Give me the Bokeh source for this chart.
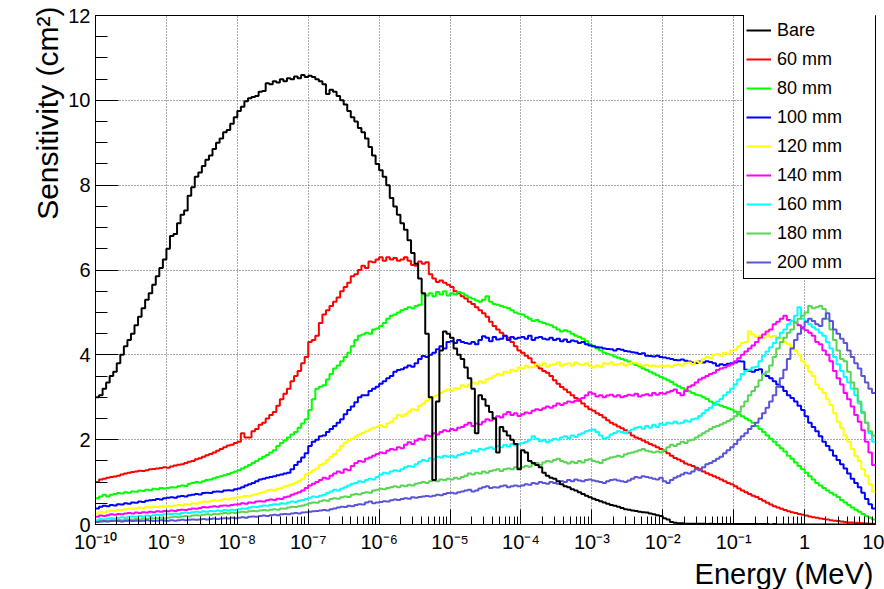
import numpy as np
from bokeh.plotting import figure
from bokeh.models import (FixedTicker, Legend, LegendItem, Range1d, Title,
                          LinearAxis, CustomJSTickFormatter)
from bokeh.embed import file_html
from bokeh.resources import INLINE

# Histogram layout: 20 logarithmic bins per decade, 1e-10 MeV .. 10 MeV
log_emin, log_emax, bins_per_decade = -10, 1, 20

# Sensitivity (cm^2) per bin, one row per decade (20 bins each)
bare = [
    3.0, 3.05, 3.2, 3.35, 3.5, 3.6, 3.8, 4.0, 4.2, 4.35, 4.5, 4.7, 4.9, 5.1, 5.3, 5.45, 5.65, 5.85, 6.05, 6.25,
    6.5, 6.8, 6.85, 7.1, 7.3, 7.4, 7.75, 7.95, 8.2, 8.3, 8.45, 8.6, 8.7, 8.85, 9.0, 9.1, 9.25, 9.3, 9.45, 9.6,
    9.75, 9.85, 9.98, 10.05, 10.08, 10.1, 10.2, 10.22, 10.4, 10.38, 10.45, 10.42, 10.5, 10.45, 10.52, 10.5, 10.56, 10.52, 10.6, 10.55,
    10.58, 10.55, 10.5, 10.45, 10.38, 10.15, 10.25, 10.2, 10.1, 10.0, 9.9, 9.75, 9.6, 9.5, 9.35, 9.25, 9.1, 8.9, 8.7, 8.5,
    8.35, 8.2, 8.0, 7.7, 7.5, 7.3, 7.1, 6.95, 6.7, 6.4, 6.15, 5.8, 5.45, 4.5, 3.0, 1.05, 2.9, 4.1, 4.55, 4.5,
    4.4, 4.15, 4.0, 3.9, 3.7, 3.45, 3.2, 2.15, 3.05, 2.95, 2.8, 2.65, 2.5, 1.7, 2.3, 2.2, 2.1, 2.0, 1.9, 1.3,
    1.75, 1.7, 1.5, 1.45, 1.4, 1.35, 1.22, 1.15, 1.1, 1.08, 1.02, 0.95, 0.9, 0.88, 0.83, 0.8, 0.76, 0.72, 0.68, 0.64,
    0.61, 0.58, 0.55, 0.52, 0.49, 0.46, 0.44, 0.42, 0.39, 0.36, 0.35, 0.33, 0.32, 0.3, 0.29, 0.28, 0.26, 0.24, 0.22, 0.2,
    0.15, 0.12, 0.06, 0.04, 0.03, 0.03, 0.02, 0.02, 0.02, 0.02, 0.02, 0.02, 0.01, 0.02, 0.01, 0.01, 0.01, 0.01, 0.01, 0.01,
    0.01, 0.01, 0.01, 0.01, 0.01, 0.01, 0.01, 0.01, 0.01, 0.01, 0.0, 0.01, 0.0, 0.0, 0.0, 0.0, 0.0, 0.0, 0.0, 0.0,
    0.0, 0.0, 0.0, 0.0, 0.0, 0.0, 0.0, 0.0, 0.0, 0.0, 0.0, 0.0, 0.0, 0.0, 0.0, 0.0, 0.0, 0.0, 0.0, 0.0,
]
mm60 = [
    1.0, 1.06, 1.08, 1.1, 1.12, 1.13, 1.15, 1.18, 1.2, 1.22, 1.24, 1.25, 1.27, 1.26, 1.28, 1.3, 1.31, 1.32, 1.33, 1.35,
    1.34, 1.37, 1.39, 1.41, 1.42, 1.45, 1.48, 1.5, 1.54, 1.56, 1.6, 1.63, 1.66, 1.7, 1.74, 1.78, 1.82, 1.86, 1.88, 1.92,
    1.95, 2.15, 2.05, 2.05, 2.2, 2.25, 2.35, 2.4, 2.5, 2.58, 2.65, 2.8, 2.95, 3.08, 3.2, 3.38, 3.5, 3.62, 3.8, 3.95,
    4.3, 4.35, 4.45, 4.75, 4.95, 5.05, 5.15, 5.25, 5.35, 5.5, 5.6, 5.7, 5.85, 5.9, 6.0, 6.1, 6.05, 6.2, 6.18, 6.25,
    6.3, 6.22, 6.3, 6.25, 6.28, 6.22, 6.25, 6.3, 6.22, 6.12, 6.1, 6.2, 6.15, 6.18, 5.9, 5.8, 5.72, 5.75, 5.7, 5.65,
    5.6, 5.5, 5.45, 5.38, 5.33, 5.25, 5.2, 5.12, 5.05, 4.98, 4.9, 4.78, 4.68, 4.6, 4.52, 4.45, 4.4, 4.3, 4.2, 4.1,
    4.05, 3.98, 3.92, 3.82, 3.75, 3.68, 3.62, 3.58, 3.5, 3.4, 3.32, 3.24, 3.18, 3.12, 3.05, 2.98, 2.92, 2.85, 2.78, 2.72,
    2.68, 2.62, 2.58, 2.52, 2.46, 2.4, 2.36, 2.31, 2.27, 2.22, 2.17, 2.1, 2.05, 2.02, 1.98, 1.94, 1.9, 1.86, 1.82, 1.78,
    1.74, 1.68, 1.62, 1.57, 1.53, 1.49, 1.44, 1.41, 1.38, 1.34, 1.3, 1.25, 1.21, 1.17, 1.14, 1.1, 1.06, 1.02, 0.98, 0.95,
    0.9, 0.85, 0.8, 0.76, 0.72, 0.68, 0.65, 0.6, 0.56, 0.51, 0.47, 0.43, 0.4, 0.37, 0.34, 0.31, 0.29, 0.27, 0.25, 0.23,
    0.21, 0.19, 0.17, 0.16, 0.14, 0.13, 0.12, 0.1, 0.09, 0.08, 0.07, 0.06, 0.05, 0.045, 0.04, 0.035, 0.03, 0.025, 0.02, 0.02,
]
mm80 = [
    0.62, 0.66, 0.7, 0.66, 0.7, 0.72, 0.74, 0.73, 0.76, 0.75, 0.78, 0.77, 0.8, 0.79, 0.82, 0.81, 0.84, 0.83, 0.86, 0.85,
    0.86, 0.88, 0.87, 0.9, 0.92, 0.91, 0.96, 0.98, 1.0, 0.99, 1.02, 1.05, 1.06, 1.09, 1.12, 1.14, 1.16, 1.19, 1.22, 1.25,
    1.28, 1.32, 1.36, 1.4, 1.45, 1.5, 1.55, 1.6, 1.64, 1.7, 1.75, 1.85, 1.92, 1.98, 2.05, 2.12, 2.18, 2.28, 2.38, 2.48,
    2.7, 2.95, 3.2, 3.25, 3.28, 3.42, 3.55, 3.68, 3.75, 3.85, 3.95, 4.05, 4.2, 4.35, 4.45, 4.48, 4.52, 4.5, 4.6, 4.62,
    4.68, 4.75, 4.85, 4.92, 4.95, 5.0, 5.05, 5.08, 5.12, 5.1, 5.15, 5.18, 5.42, 5.4, 5.45, 5.38, 5.48, 5.42, 5.5, 5.4,
    5.45, 5.42, 5.48, 5.45, 5.4, 5.35, 5.32, 5.28, 5.25, 5.3, 5.38, 5.25, 5.2, 5.18, 5.15, 5.12, 5.1, 5.05, 5.0, 4.97,
    4.95, 4.9, 4.85, 4.8, 4.82, 4.78, 4.75, 4.72, 4.7, 4.65, 4.6, 4.55, 4.58, 4.55, 4.5, 4.45, 4.42, 4.38, 4.32, 4.25,
    4.2, 4.15, 4.1, 4.05, 4.02, 4.0, 3.96, 3.93, 3.9, 3.87, 3.84, 3.8, 3.76, 3.73, 3.68, 3.64, 3.6, 3.56, 3.52, 3.48,
    3.44, 3.4, 3.36, 3.3, 3.26, 3.22, 3.18, 3.14, 3.1, 3.06, 3.04, 3.0, 2.96, 2.9, 2.86, 2.83, 2.8, 2.77, 2.74, 2.71,
    2.66, 2.6, 2.55, 2.5, 2.45, 2.4, 2.32, 2.25, 2.18, 2.1, 2.02, 1.95, 1.87, 1.8, 1.72, 1.62, 1.55, 1.46, 1.38, 1.3,
    1.22, 1.14, 1.06, 0.98, 0.92, 0.86, 0.8, 0.75, 0.7, 0.65, 0.58, 0.52, 0.46, 0.4, 0.35, 0.3, 0.25, 0.2, 0.16, 0.12,
]
mm100 = [
    0.38, 0.42, 0.44, 0.43, 0.46, 0.45, 0.48, 0.47, 0.5, 0.49, 0.52, 0.51, 0.54, 0.53, 0.56, 0.57, 0.58, 0.6, 0.59, 0.62,
    0.63, 0.64, 0.63, 0.66, 0.67, 0.66, 0.69, 0.7, 0.72, 0.71, 0.74, 0.75, 0.74, 0.77, 0.78, 0.77, 0.8, 0.81, 0.8, 0.83,
    0.85, 0.88, 0.92, 0.95, 0.98, 1.02, 1.06, 1.08, 1.1, 1.12, 1.14, 1.16, 1.18, 1.2, 1.22, 1.3, 1.4, 1.48, 1.58, 1.68,
    1.85, 1.95, 2.0, 2.08, 2.1, 2.18, 2.25, 2.32, 2.4, 2.48, 2.6, 2.7, 2.78, 2.88, 3.0, 3.05, 3.05, 3.15, 3.2, 3.25,
    3.32, 3.38, 3.45, 3.5, 3.6, 3.64, 3.66, 3.7, 3.75, 3.72, 3.8, 3.9, 3.97, 3.95, 4.0, 4.05, 4.13, 4.2, 4.15, 4.3,
    4.32, 4.28, 4.35, 4.3, 4.28, 4.26, 4.3, 4.25, 4.35, 4.44, 4.4, 4.32, 4.42, 4.36, 4.38, 4.45, 4.35, 4.42, 4.38, 4.4,
    4.42, 4.38, 4.45, 4.35, 4.4, 4.42, 4.38, 4.36, 4.4, 4.35, 4.38, 4.32, 4.36, 4.3, 4.34, 4.32, 4.28, 4.3, 4.25, 4.22,
    4.2, 4.18, 4.17, 4.15, 4.14, 4.13, 4.1, 4.14, 4.12, 4.09, 4.08, 4.06, 4.05, 4.02, 4.04, 3.98, 3.97, 3.96, 3.98, 3.95,
    3.94, 3.92, 3.9, 3.88, 3.87, 3.89, 3.86, 3.84, 3.82, 3.81, 3.84, 3.82, 3.85, 3.83, 3.8, 3.74, 3.78, 3.76, 3.79, 3.8,
    3.82, 3.85, 3.84, 3.65, 3.62, 3.6, 3.64, 3.66, 3.55, 3.5, 3.45, 3.38, 3.3, 3.25, 3.15, 3.05, 2.98, 2.9, 2.8, 2.7,
    2.55, 2.4, 2.3, 2.2, 2.08, 1.95, 1.85, 1.75, 1.62, 1.52, 1.42, 1.32, 1.2, 1.08, 0.98, 0.88, 0.75, 0.6, 0.48, 0.38,
]
mm120 = [
    0.26, 0.3, 0.28, 0.31, 0.33, 0.32, 0.35, 0.34, 0.36, 0.38, 0.37, 0.38, 0.4, 0.39, 0.41, 0.4, 0.42, 0.41, 0.43, 0.42,
    0.44, 0.43, 0.45, 0.46, 0.45, 0.48, 0.47, 0.5, 0.49, 0.52, 0.54, 0.53, 0.55, 0.57, 0.56, 0.58, 0.6, 0.59, 0.62, 0.63,
    0.64, 0.66, 0.68, 0.67, 0.7, 0.72, 0.74, 0.76, 0.8, 0.82, 0.8, 0.84, 0.86, 0.9, 0.92, 0.95, 0.98, 1.02, 1.08, 1.18,
    1.22, 1.28, 1.32, 1.4, 1.44, 1.52, 1.6, 1.66, 1.75, 1.85, 1.93, 1.98, 2.02, 2.08, 2.12, 2.16, 2.2, 2.24, 2.28, 2.3,
    2.34, 2.3, 2.38, 2.42, 2.5, 2.58, 2.55, 2.6, 2.66, 2.72, 2.7, 2.8, 2.85, 2.92, 2.98, 3.02, 3.05, 3.1, 3.15, 3.18,
    3.15, 3.22, 3.2, 3.28, 3.25, 3.3, 3.35, 3.32, 3.38, 3.34, 3.42, 3.45, 3.5, 3.55, 3.52, 3.6, 3.58, 3.65, 3.62, 3.7,
    3.68, 3.74, 3.7, 3.72, 3.78, 3.75, 3.8, 3.72, 3.76, 3.78, 3.82, 3.74, 3.78, 3.8, 3.75, 3.82, 3.78, 3.76, 3.8, 3.74,
    3.7, 3.75, 3.72, 3.8, 3.78, 3.82, 3.76, 3.78, 3.8, 3.75, 3.78, 3.82, 3.8, 3.77, 3.74, 3.76, 3.73, 3.75, 3.72, 3.74,
    3.73, 3.75, 3.72, 3.76, 3.78, 3.74, 3.8, 3.82, 3.78, 3.85, 3.82, 3.9, 3.95, 3.92, 4.0, 4.02, 3.98, 4.05, 4.02, 4.1,
    4.12, 4.2, 4.28, 4.3, 4.55, 4.48, 4.42, 4.45, 4.4, 4.5, 4.42, 4.45, 4.38, 4.4, 4.3, 4.25, 4.18, 4.1, 4.0, 3.85,
    3.75, 3.6, 3.5, 3.3, 3.2, 3.1, 2.95, 2.82, 2.62, 2.42, 2.28, 2.1, 1.95, 1.78, 1.62, 1.5, 1.3, 1.15, 0.95, 0.78,
]
mm140 = [
    0.18, 0.21, 0.2, 0.22, 0.24, 0.23, 0.25, 0.24, 0.26, 0.27, 0.26, 0.28, 0.27, 0.29, 0.28, 0.3, 0.29, 0.31, 0.3, 0.32,
    0.31, 0.33, 0.32, 0.34, 0.35, 0.34, 0.36, 0.38, 0.37, 0.39, 0.41, 0.4, 0.42, 0.43, 0.42, 0.44, 0.45, 0.44, 0.46, 0.47,
    0.48, 0.5, 0.49, 0.52, 0.51, 0.54, 0.55, 0.54, 0.57, 0.59, 0.58, 0.61, 0.6, 0.64, 0.66, 0.7, 0.73, 0.76, 0.8, 0.86,
    0.92, 0.96, 1.0, 1.05, 1.1, 1.08, 1.15, 1.2, 1.25, 1.22, 1.3, 1.28, 1.38, 1.45, 1.5, 1.48, 1.55, 1.58, 1.62, 1.66,
    1.7, 1.68, 1.74, 1.78, 1.76, 1.82, 1.8, 1.88, 1.94, 1.9, 1.98, 2.02, 2.0, 2.1, 2.08, 2.15, 2.12, 2.18, 2.22, 2.2,
    2.25, 2.22, 2.28, 2.3, 2.35, 2.4, 2.32, 2.38, 2.36, 2.42, 2.48, 2.45, 2.5, 2.55, 2.52, 2.6, 2.65, 2.58, 2.62, 2.56,
    2.6, 2.64, 2.62, 2.68, 2.72, 2.7, 2.74, 2.78, 2.75, 2.8, 2.85, 2.82, 2.86, 2.9, 2.88, 2.92, 2.95, 2.98, 3.05, 3.12,
    3.08, 3.02, 3.05, 3.0, 3.04, 3.06, 3.02, 3.05, 3.0, 3.03, 3.06, 3.04, 3.08, 3.02, 3.05, 3.07, 3.04, 3.1, 3.06, 3.1,
    3.08, 3.12, 3.15, 3.18, 3.1, 3.05, 3.15, 3.25, 3.28, 3.35, 3.42, 3.46, 3.5, 3.55, 3.58, 3.64, 3.68, 3.7, 3.74, 3.78,
    3.85, 3.92, 4.0, 4.08, 4.15, 4.22, 4.3, 4.4, 4.48, 4.55, 4.6, 4.72, 4.78, 4.85, 4.92, 4.82, 4.8, 4.76, 4.7, 4.62,
    4.58, 4.52, 4.45, 4.3, 4.25, 4.1, 4.0, 3.85, 3.62, 3.45, 3.3, 3.1, 2.95, 2.78, 2.58, 2.42, 2.22, 1.95, 1.7, 1.4,
]
mm160 = [
    0.1, 0.13, 0.12, 0.14, 0.15, 0.14, 0.16, 0.17, 0.16, 0.18, 0.19, 0.18, 0.2, 0.19, 0.21, 0.2, 0.22, 0.23, 0.22, 0.24,
    0.24, 0.25, 0.26, 0.25, 0.27, 0.28, 0.27, 0.29, 0.3, 0.29, 0.31, 0.3, 0.32, 0.31, 0.33, 0.32, 0.34, 0.33, 0.35, 0.34,
    0.36, 0.38, 0.37, 0.4, 0.42, 0.41, 0.43, 0.45, 0.44, 0.46, 0.48, 0.47, 0.5, 0.49, 0.52, 0.54, 0.53, 0.56, 0.58, 0.6,
    0.63, 0.66, 0.65, 0.68, 0.7, 0.74, 0.78, 0.82, 0.8, 0.85, 0.88, 0.92, 0.96, 0.98, 1.02, 1.0, 1.05, 1.08, 1.06, 1.12,
    1.18, 1.22, 1.2, 1.25, 1.28, 1.26, 1.3, 1.35, 1.38, 1.36, 1.42, 1.48, 1.52, 1.5, 1.56, 1.54, 1.6, 1.58, 1.62, 1.6,
    1.62, 1.58, 1.64, 1.66, 1.7, 1.68, 1.75, 1.72, 1.78, 1.76, 1.8, 1.82, 1.78, 1.85, 1.82, 1.88, 1.84, 1.9, 1.86, 1.9,
    1.92, 1.95, 2.0, 2.08, 2.02, 1.96, 2.0, 1.94, 1.98, 2.02, 2.0, 2.05, 2.08, 2.04, 2.1, 2.06, 2.12, 2.15, 2.2, 2.22,
    2.24, 2.18, 2.1, 2.02, 2.05, 2.12, 2.16, 2.2, 2.18, 2.15, 2.2, 2.24, 2.28, 2.3, 2.26, 2.32, 2.28, 2.35, 2.3, 2.38,
    2.35, 2.4, 2.38, 2.42, 2.38, 2.4, 2.45, 2.42, 2.48, 2.5, 2.56, 2.62, 2.7, 2.75, 2.82, 2.9, 2.96, 3.05, 3.12, 3.2,
    3.3, 3.42, 3.55, 3.62, 3.65, 3.7, 3.72, 3.85, 3.98, 4.08, 4.18, 4.28, 4.4, 4.52, 4.6, 4.72, 4.8, 4.92, 5.12, 4.85,
    4.8, 4.72, 4.65, 4.6, 4.52, 4.45, 4.3, 4.15, 3.95, 3.78, 3.62, 3.48, 3.35, 3.2, 3.05, 2.85, 2.62, 2.4, 2.15, 1.95,
]
mm180 = [
    0.06, 0.08, 0.07, 0.09, 0.1, 0.09, 0.11, 0.1, 0.12, 0.11, 0.12, 0.13, 0.12, 0.14, 0.13, 0.15, 0.14, 0.15, 0.16, 0.15,
    0.16, 0.17, 0.18, 0.17, 0.19, 0.2, 0.19, 0.21, 0.22, 0.21, 0.23, 0.24, 0.23, 0.25, 0.24, 0.26, 0.27, 0.26, 0.28, 0.27,
    0.29, 0.3, 0.29, 0.31, 0.32, 0.31, 0.33, 0.34, 0.33, 0.35, 0.36, 0.35, 0.38, 0.37, 0.4, 0.42, 0.41, 0.43, 0.45, 0.47,
    0.5, 0.52, 0.51, 0.55, 0.57, 0.56, 0.6, 0.62, 0.61, 0.64, 0.66, 0.65, 0.7, 0.72, 0.71, 0.74, 0.76, 0.75, 0.8, 0.82,
    0.84, 0.83, 0.86, 0.88, 0.9, 0.88, 0.92, 0.9, 0.94, 0.92, 0.96, 0.98, 1.0, 0.98, 1.02, 1.04, 1.02, 1.06, 1.05, 1.08,
    1.06, 1.1, 1.08, 1.12, 1.15, 1.2, 1.18, 1.22, 1.2, 1.25, 1.22, 1.26, 1.28, 1.3, 1.26, 1.3, 1.32, 1.3, 1.35, 1.33,
    1.35, 1.38, 1.36, 1.42, 1.45, 1.4, 1.46, 1.5, 1.48, 1.52, 1.55, 1.5, 1.47, 1.44, 1.48, 1.45, 1.5, 1.46, 1.52, 1.54,
    1.5, 1.48, 1.45, 1.52, 1.55, 1.58, 1.6, 1.62, 1.6, 1.65, 1.68, 1.7, 1.72, 1.75, 1.78, 1.74, 1.72, 1.7, 1.72, 1.7,
    1.75, 1.82, 1.88, 1.85, 1.9, 1.95, 1.92, 1.98, 2.0, 2.05, 2.1, 2.15, 2.2, 2.25, 2.3, 2.32, 2.36, 2.4, 2.44, 2.48,
    2.55, 2.65, 2.78, 2.9, 3.05, 3.15, 3.25, 3.4, 3.55, 3.6, 3.75, 3.95, 4.15, 4.3, 4.4, 4.52, 4.6, 4.75, 4.85, 4.92,
    5.0, 5.15, 5.1, 5.12, 5.15, 5.08, 4.85, 4.6, 4.35, 4.1, 3.9, 3.85, 3.6, 3.35, 3.2, 2.9, 2.65, 2.4, 2.2, 2.1,
]
mm200 = [
    0.06, 0.07, 0.08, 0.07, 0.08, 0.09, 0.08, 0.07, 0.08, 0.09, 0.08, 0.09, 0.08, 0.09, 0.1, 0.09, 0.08, 0.09, 0.1, 0.09,
    0.09, 0.1, 0.09, 0.1, 0.11, 0.1, 0.11, 0.12, 0.11, 0.12, 0.13, 0.12, 0.13, 0.14, 0.13, 0.14, 0.15, 0.14, 0.16, 0.15,
    0.16, 0.17, 0.16, 0.18, 0.19, 0.18, 0.2, 0.21, 0.2, 0.22, 0.23, 0.22, 0.24, 0.25, 0.24, 0.26, 0.27, 0.26, 0.28, 0.29,
    0.3, 0.31, 0.32, 0.33, 0.34, 0.33, 0.36, 0.38, 0.4, 0.42, 0.41, 0.44, 0.43, 0.46, 0.48, 0.47, 0.52, 0.54, 0.5, 0.52,
    0.53, 0.55, 0.54, 0.57, 0.59, 0.58, 0.6, 0.62, 0.61, 0.64, 0.63, 0.65, 0.66, 0.67, 0.66, 0.68, 0.7, 0.69, 0.72, 0.74,
    0.75, 0.73, 0.76, 0.78, 0.8, 0.82, 0.78, 0.8, 0.85, 0.88, 0.9, 0.86, 0.88, 0.87, 0.9, 0.92, 0.88, 0.9, 0.92, 0.9,
    0.92, 0.95, 0.94, 0.98, 0.96, 1.0, 0.98, 0.96, 1.0, 0.98, 0.96, 1.02, 1.0, 1.05, 1.02, 1.06, 1.04, 1.02, 1.05, 1.06,
    1.04, 1.02, 1.0, 0.98, 1.02, 1.05, 1.06, 1.04, 1.02, 1.0, 1.04, 1.08, 1.12, 1.1, 1.14, 1.12, 1.1, 1.08, 1.06, 1.1,
    1.02, 0.98, 1.05, 1.1, 1.14, 1.18, 1.22, 1.2, 1.25, 1.3, 1.28, 1.35, 1.42, 1.45, 1.5, 1.55, 1.6, 1.68, 1.75, 1.82,
    1.9, 2.0, 2.08, 2.15, 2.25, 2.32, 2.4, 2.5, 2.62, 2.75, 2.9, 3.05, 3.25, 3.45, 3.65, 3.9, 4.15, 4.35, 4.5, 4.65,
    4.78, 4.85, 4.8, 4.72, 4.68, 4.85, 4.98, 4.8, 4.6, 4.5, 4.38, 4.28, 4.1, 3.95, 3.8, 3.68, 3.5, 3.35, 3.2, 3.1,
]

labels = ["Bare", "60 mm", "80 mm", "100 mm", "120 mm", "140 mm", "160 mm", "180 mm", "200 mm"]
colors = ["#000000", "#ff0000", "#00ff00", "#0000ff", "#ffff00", "#ff00ff", "#00ffff", "#59d454", "#5954d8"]
series = [bare, mm60, mm80, mm100, mm120, mm140, mm160, mm180, mm200]

x_title = "Energy (MeV)"
y_title = "Sensitivity (cm²)"
x_tick_values = [1e-10, 1e-9, 1e-8, 1e-7, 1e-6, 1e-5, 1e-4, 1e-3, 1e-2, 1e-1, 1.0, 10.0]
x_tick_labels = ["10⁻¹⁰", "10⁻⁹", "10⁻⁸", "10⁻⁷", "10⁻⁶", "10⁻⁵", "10⁻⁴", "10⁻³", "10⁻²", "10⁻¹", "1", "10"]
y_tick_values = [0, 2, 4, 6, 8, 10, 12]

n_bins = (log_emax - log_emin) * bins_per_decade
edges = np.logspace(log_emin, log_emax, n_bins + 1)

FONT = "Liberation Sans"

p = figure(width=884, height=589, x_axis_type="log",
           x_range=Range1d(1e-10, 10), y_range=Range1d(0, 12),
           output_backend="svg", toolbar_location=None,
           min_border_left=95, min_border_right=9, min_border_top=15, min_border_bottom=65)
p.background_fill_color = "white"
p.border_fill_color = "white"
p.outline_line_color = "black"
p.outline_line_width = 1

renderers = {}
draw_order = list(range(1, len(series))) + [0]
for i in draw_order:
    vals = list(series[i])[:n_bins]
    ys = vals + [vals[-1]]
    xs = edges[:len(ys)]
    r = p.step(x=xs, y=ys, mode="after", line_color=colors[i], line_width=2)
    renderers[i] = r

# axes
x_minor = [m * 10.0 ** k for k in range(-10, 1) for m in range(2, 10)]
p.xaxis.ticker = FixedTicker(ticks=x_tick_values, minor_ticks=x_minor)
p.xaxis.formatter = CustomJSTickFormatter(
    args=dict(vals=x_tick_values, labs=x_tick_labels),
    code="""
    for (let i = 0; i < vals.length; i++) {
        if (Math.abs(Math.log10(vals[i] / tick)) < 1e-6) { return labs[i]; }
    }
    return "";
    """)
y_minor = [v / 2 for v in range(0, 25)]
p.yaxis.ticker = FixedTicker(ticks=y_tick_values, minor_ticks=y_minor)

for ax in (p.xaxis[0], p.yaxis[0]):
    ax.axis_line_color = "black"
    ax.major_tick_line_color = "black"
    ax.minor_tick_line_color = "black"
    ax.major_tick_out = 0
    ax.minor_tick_out = 0
    ax.major_label_text_font = FONT
    ax.major_label_text_font_size = "20px"
    ax.major_label_text_color = "black"
p.xaxis.major_tick_in = 15
p.xaxis.minor_tick_in = 8
p.yaxis.major_tick_in = 23
p.yaxis.minor_tick_in = 12
p.xaxis.major_label_standoff = 6
p.yaxis.major_label_standoff = 5

for g in (p.xgrid[0], p.ygrid[0]):
    g.grid_line_color = "#555555"
    g.grid_line_dash = "1 2"
    g.grid_line_width = 1

# blank spacer between the y tick labels and the y title (no ticks drawn, no text)
spacer = LinearAxis(ticker=FixedTicker(ticks=[], minor_ticks=[]),
                    axis_line_color=None, major_tick_line_color="white", minor_tick_line_color=None,
                    major_tick_in=0, major_tick_out=26, minor_tick_in=0, minor_tick_out=0,
                    major_label_standoff=0)
p.add_layout(spacer, "left")

# axis titles (ROOT style: right aligned at the end of each axis)
p.add_layout(Title(text=x_title, align="right", vertical_align="bottom",
                   text_font=FONT, text_font_size="29px", text_font_style="normal",
                   text_color="black", standoff=0, offset=2), "below")
p.add_layout(Title(text=y_title, align="right", vertical_align="top",
                   text_font=FONT, text_font_size="30px", text_font_style="normal",
                   text_color="black", standoff=0, offset=-9), "left")

legend = Legend(items=[LegendItem(label=labels[i], renderers=[renderers[i]]) for i in range(len(series))],
                location=(648, 245), orientation="vertical",
                border_line_color="black", border_line_width=1, border_line_alpha=1,
                background_fill_color="white", background_fill_alpha=1,
                label_text_font=FONT, label_text_font_size="18px", label_text_color="black",
                glyph_width=25, glyph_height=28, label_height=28, label_width=96,
                label_standoff=6, spacing=1, padding=2, margin=0)
p.add_layout(legend)

with open("out.html", "w", encoding="utf-8") as f:
    f.write(file_html(p, INLINE, title="Sensitivity"))
